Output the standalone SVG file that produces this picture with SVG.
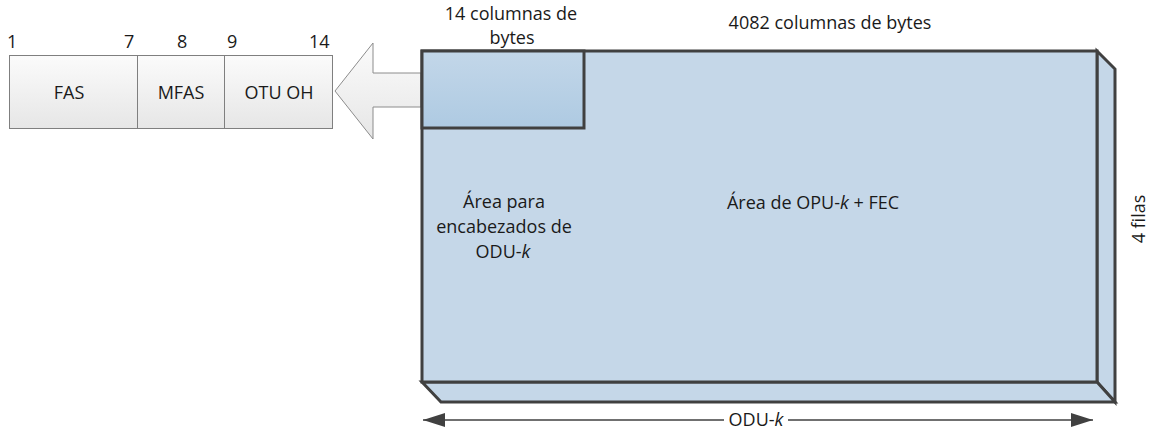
<svg xmlns="http://www.w3.org/2000/svg" width="1159" height="431" viewBox="0 0 1159 431">
<defs>
<style>
text{font-family:"Open Sans","Liberation Sans",sans-serif;font-size:18px;fill:#1a1a1a}
.mid{text-anchor:middle}
.face{fill:#c5d7e8;stroke:#404040;stroke-width:3;stroke-linejoin:miter}
.cell{fill:url(#gGray);stroke:#7f7f7f;stroke-width:1}
</style>
<linearGradient id="gGray" x1="0" y1="0" x2="0" y2="1">
<stop offset="0" stop-color="#fbfbfb"/><stop offset="1" stop-color="#e6e6e6"/>
</linearGradient>
<linearGradient id="gBlue" x1="0" y1="0" x2="0" y2="1">
<stop offset="0" stop-color="#c3d7e9"/><stop offset="1" stop-color="#aecae2"/>
</linearGradient>
<marker id="ah" viewBox="0 0 22 14" refX="22" refY="7" markerWidth="22" markerHeight="14" markerUnits="userSpaceOnUse" orient="auto-start-reverse">
<path d="M0,0 L22,7 L0,14 Z" fill="#404040"/>
</marker>
</defs>

<g id="otu-oh-row">
<rect class="cell" x="9.5" y="55.5" width="128" height="73"/>
<rect class="cell" x="137.5" y="55.5" width="87" height="73"/>
<rect class="cell" x="224.5" y="55.5" width="108" height="73"/>
<text class="mid" x="69" y="99">FAS</text>
<text class="mid" x="181" y="99">MFAS</text>
<text class="mid" x="279" y="99">OTU OH</text>
<text x="7" y="48">1</text>
<text x="124" y="48">7</text>
<text x="177" y="48">8</text>
<text x="227" y="48">9</text>
<text x="309" y="48">14</text>
</g>

<g id="big-arrow">
<path d="M421,73 L373,73 L373,43 L335,91 L373,139 L373,107 L421,107 Z" fill="url(#gGray)" stroke="#8c8c8c" stroke-width="1"/>
</g>

<g id="odu-frame">
<path class="face" d="M1097,51 L1115,69 L1115,402 L1097,382 Z"/>
<path class="face" d="M422,382 L1097,382 L1115,402 L441,402 Z"/>
<rect class="face" x="422" y="51" width="675" height="331"/>
<rect x="422" y="51" width="162" height="77" fill="url(#gBlue)" stroke="#404040" stroke-width="3"/>
<text class="mid" x="511" y="20">14 columnas de</text>
<text class="mid" x="512" y="44">bytes</text>
<text class="mid" x="830" y="29">4082 columnas de bytes</text>
<text class="mid" x="504" y="208">Área para</text>
<text class="mid" x="504" y="233">encabezados de</text>
<text class="mid" x="503" y="258">ODU-<tspan font-style="italic">k</tspan></text>
<text class="mid" x="813" y="209">Área de OPU-<tspan font-style="italic">k</tspan> + FEC</text>
<text class="mid" transform="translate(1145,219) rotate(-90)">4 filas</text>
</g>

<g id="connectors">
<line x1="423" y1="420" x2="1093" y2="420" stroke="#404040" stroke-width="1.3" marker-start="url(#ah)" marker-end="url(#ah)"/>
<rect x="724" y="408" width="64" height="23" fill="#ffffff"/>
<text class="mid" x="756" y="426">ODU-<tspan font-style="italic">k</tspan></text>
</g>
</svg>
